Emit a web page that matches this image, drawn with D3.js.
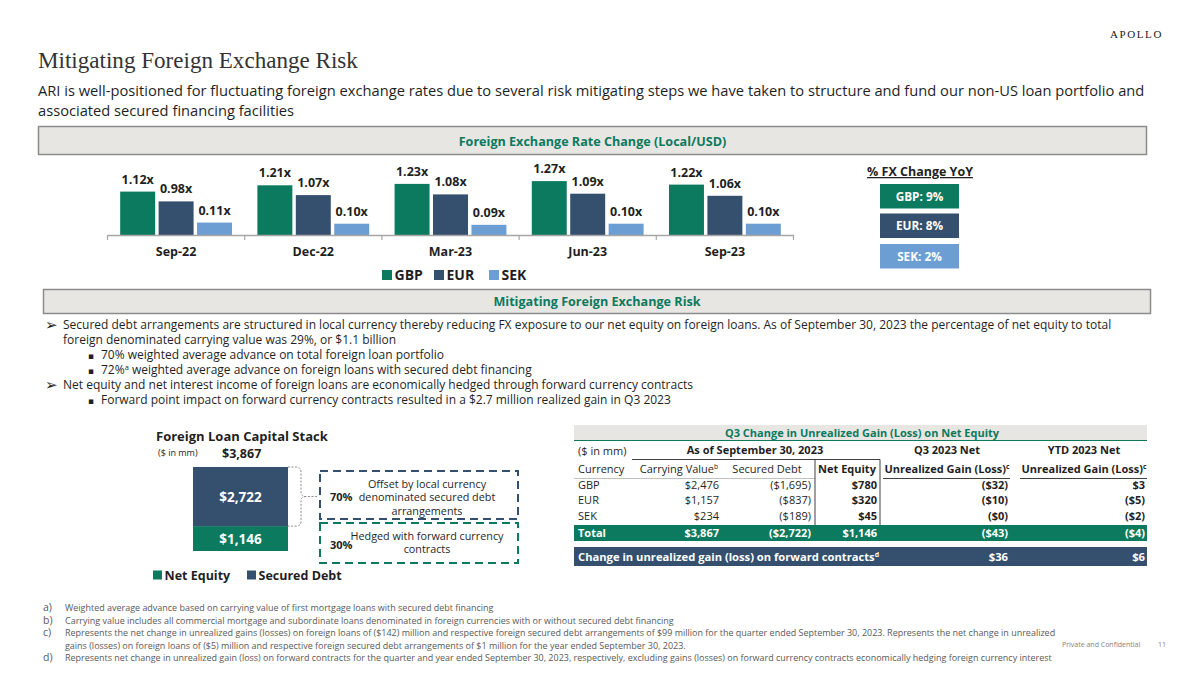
<!DOCTYPE html>
<html>
<head>
<meta charset="utf-8">
<script src="https://cdn.jsdelivr.net/npm/d3@7"></script>
<style>
  body { margin: 0; background: #fff; }
  svg { display: block; font-family: "Open Sans", sans-serif; }
</style>
</head>
<body>
<svg id="slide" width="1200" height="675"></svg>
<script>
// ---- data ----
const periods = ["Sep-22", "Dec-22", "Mar-23", "Jun-23", "Sep-23"];
const currencies = ["GBP", "EUR", "SEK"];
const gbpRate = [1.12, 1.21, 1.23, 1.27, 1.22];
const eurRate = [0.98, 1.07, 1.08, 1.09, 1.06];
const sekRate = [0.11, 0.10, 0.09, 0.10, 0.10];
const fxChangeYoY = [9, 8, 2];

const stackParts = ["Net Equity", "Secured Debt"];
const stackValues = [1146, 2722];
const stackTotal = 3867;
const stackShares = [30, 70];

const tableCurrencies = ["GBP", "EUR", "SEK"];
const carryingValue = [2476, 1157, 234];
const securedDebt = [-1695, -837, -189];
const netEquity = [780, 320, 45];
const q3Gain = [-32, -10, -0];
const ytdGain = [3, -5, -2];
const totals = [3867, -2722, 1146, -43, -4];
const fwdContracts = [36, 6];

// ---- setup ----
const svg = d3.select("#slide");
const GREEN = "#0c7a5e", NAVY = "#34506e", SKY = "#6c9ed3", TXT = "#1f1f1f";
const BOXFILL = "#e8e6e3", BOXLINE = "#8c8c8c";

svg.append("rect").attr("width", 1200).attr("height", 675).attr("fill", "#fff");

// scale a line's font so it fills a width
function fitWidth(sel, w) {
  const node = sel.node();
  const fs = parseFloat(sel.attr("font-size"));
  const size = fs * w / node.getComputedTextLength();
  sel.attr("font-size", size.toFixed(2));
  return size;
}

// write plain strings and {sup} parts into a text element
function richText(t, parts) {
  let raised = false;
  (Array.isArray(parts) ? parts : [parts]).forEach(p => {
    if (typeof p === "string") {
      const s = t.append("tspan").text(p);
      if (raised) { s.attr("dy", 4.5); raised = false; }
    } else {
      t.append("tspan").attr("font-size", "0.62em").attr("dy", -4.5).text(p.sup);
      raised = true;
    }
  });
  return t;
}

const money = v => {
  const s = "$" + d3.format(",")(Math.abs(v));
  return (v < 0 || Object.is(v, -0)) ? "(" + s + ")" : s;
};

// ---- header ----
svg.append("text").attr("x", 1163).attr("y", 38).attr("text-anchor", "end")
  .attr("font-family", "Liberation Serif, serif").attr("font-size", 11)
  .attr("letter-spacing", 1.6).attr("fill", "#222").text("APOLLO");

const title = svg.append("text").attr("x", 38).attr("y", 68)
  .attr("font-family", "Liberation Serif, serif").attr("font-size", 26)
  .attr("fill", "#333").text("Mitigating Foreign Exchange Risk");
fitWidth(title, 320);

const sub1 = svg.append("text").attr("x", 38).attr("y", 96).attr("font-size", 16).attr("fill", TXT)
  .text("ARI is well-positioned for fluctuating foreign exchange rates due to several risk mitigating steps we have taken to structure and fund our non-US loan portfolio and");
const subSize = fitWidth(sub1, 1107);
svg.append("text").attr("x", 38).attr("y", 116).attr("font-size", subSize).attr("fill", TXT)
  .text("associated secured financing facilities");

// section bands
function band(x, y, w, h, label, ty) {
  svg.append("rect").attr("x", x).attr("y", y).attr("width", w).attr("height", h)
    .attr("fill", BOXFILL).attr("stroke", BOXLINE).attr("stroke-width", 1.5);
  svg.append("text").attr("x", x + w / 2).attr("y", ty).attr("text-anchor", "middle")
    .attr("font-size", 12.6).attr("font-weight", 700).attr("fill", GREEN).text(label);
}
band(38.5, 126.5, 1108, 28, "Foreign Exchange Rate Change (Local/USD)", 145.5);
band(43.5, 289.5, 1107, 24, "Mitigating Foreign Exchange Risk", 306);

// ---- FX bar chart ----
const base = 235;
const x0 = d3.scaleBand().domain(periods).range([107.5, 793.5]);
const x1 = d3.scaleBand().domain(currencies).range([0, x0.bandwidth()])
  .paddingInner(0.09).paddingOuter(0.33);
const yMain = d3.scaleLinear().domain([0.5, 1.3]).range([base, base - 56]);
const ySek = d3.scaleLinear().domain([0, 0.2]).range([base, base - 22.6]);
const colors = d3.scaleOrdinal().domain(currencies).range([GREEN, NAVY, SKY]);

const barData = periods.flatMap((p, i) => [
  { p, c: "GBP", v: gbpRate[i], y: yMain },
  { p, c: "EUR", v: eurRate[i], y: yMain },
  { p, c: "SEK", v: sekRate[i], y: ySek }
]);

const chart = svg.append("g");
chart.selectAll("rect.bar").data(barData).join("rect").attr("class", "bar")
  .attr("x", d => x0(d.p) + x1(d.c))
  .attr("y", d => d.y(d.v))
  .attr("width", x1.bandwidth())
  .attr("height", d => base - d.y(d.v))
  .attr("fill", d => colors(d.c));

chart.selectAll("text.val").data(barData).join("text").attr("class", "val")
  .attr("x", d => x0(d.p) + x1(d.c) + x1.bandwidth() / 2)
  .attr("y", d => d.y(d.v) - 8)
  .attr("text-anchor", "middle").attr("font-size", 12.5).attr("font-weight", 700).attr("fill", TXT)
  .text(d => d3.format(".2f")(d.v) + "x");

const xAxis = chart.append("g").attr("transform", `translate(0,${base})`)
  .call(d3.axisBottom(x0).tickSize(0).tickPadding(12));
xAxis.select(".domain").attr("stroke", "#a6a6a6").attr("stroke-width", 1.5);
xAxis.selectAll("text").attr("font-family", "Open Sans, sans-serif").attr("font-size", 12.5)
  .attr("font-weight", 700).attr("fill", TXT);
// category separators like the original
const edges = periods.map(p => x0(p)).concat([x0.range()[1]]);
chart.selectAll("line.sep").data(edges).join("line").attr("class", "sep")
  .attr("x1", d => d).attr("x2", d => d).attr("y1", base).attr("y2", base + 5)
  .attr("stroke", "#a6a6a6").attr("stroke-width", 1.2);

// legend
const leg = chart.append("g").attr("transform", "translate(382,280)");
const legX = [0, 52, 107];
currencies.forEach((c, i) => {
  leg.append("rect").attr("x", legX[i]).attr("y", -10).attr("width", 10).attr("height", 10).attr("fill", colors(c));
  leg.append("text").attr("x", legX[i] + 12.5).attr("y", 0).attr("font-size", 14)
    .attr("font-weight", 700).attr("fill", TXT).text(c);
});

// % FX change YoY
svg.append("text").attr("x", 920).attr("y", 176).attr("text-anchor", "middle")
  .attr("font-size", 12.5).attr("font-weight", 700).attr("fill", TXT)
  .attr("text-decoration", "underline").text("% FX Change YoY");
const boxY = [184, 213.5, 244];
currencies.forEach((c, i) => {
  svg.append("rect").attr("x", 880).attr("y", boxY[i]).attr("width", 79).attr("height", 24.5)
    .attr("fill", colors(c));
  svg.append("text").attr("x", 919.5).attr("y", boxY[i] + 16.5).attr("text-anchor", "middle")
    .attr("font-size", 11.8).attr("font-weight", 700).attr("fill", "#fff")
    .text(`${c}: ${fxChangeYoY[i]}%`);
});

// ---- bullets ----
const bl = svg.append("g").attr("fill", TXT);
function bullet(level, y, parts) {
  const bx = level === 1 ? 45 : 88;
  const tx = level === 1 ? 63 : 101;
  bl.append("text").attr("x", bx).attr("y", y + (level === 1 ? 1 : 0)).attr("font-family", "DejaVu Sans, sans-serif")
    .attr("font-size", level === 1 ? 15 : 9).text(level === 1 ? "\u27A2" : "\u25AA");
  return line(tx, y, parts);
}
function line(x, y, parts) {
  return richText(bl.append("text").attr("x", x).attr("y", y).attr("font-size", 13.5), parts);
}
const b1 = bullet(1, 329, "Secured debt arrangements are structured in local currency thereby reducing FX exposure to our net equity on foreign loans. As of September 30, 2023 the percentage of net equity to total");
const bs = fitWidth(b1, 1049);
const lines = [
  line(63, 344, "foreign denominated carrying value was 29%, or $1.1 billion"),
  bullet(2, 359, "70% weighted average advance on total foreign loan portfolio"),
  bullet(2, 374, ["72%", { sup: "a" }, " weighted average advance on foreign loans with secured debt financing"]),
  bullet(1, 389, "Net equity and net interest income of foreign loans are economically hedged through forward currency contracts"),
  bullet(2, 404, "Forward point impact on forward currency contracts resulted in a $2.7 million realized gain in Q3 2023")
];
lines.forEach(t => t.attr("font-size", bs));

// ---- foreign loan capital stack ----
const st = svg.append("g");
st.append("text").attr("x", 156).attr("y", 441).attr("font-size", 13).attr("font-weight", 700)
  .attr("fill", TXT).text("Foreign Loan Capital Stack");
st.append("text").attr("x", 158).attr("y", 456).attr("font-size", 9).attr("fill", TXT).text("($ in mm)");
st.append("text").attr("x", 222).attr("y", 458).attr("font-size", 12.5).attr("font-weight", 700)
  .attr("fill", TXT).text(money(stackTotal));

const yStack = d3.scaleLinear().domain([0, stackTotal]).range([551, 467]);
const stacked = d3.stack().keys(stackParts)([Object.fromEntries(stackParts.map((k, i) => [k, stackValues[i]]))]);
const stackColor = d3.scaleOrdinal().domain(stackParts).range([GREEN, NAVY]);
const sx = 193, sw = 95;
st.selectAll("rect.seg").data(stacked).join("rect").attr("class", "seg")
  .attr("x", sx).attr("width", sw)
  .attr("y", d => yStack(d[0][1])).attr("height", d => yStack(d[0][0]) - yStack(d[0][1]))
  .attr("fill", d => stackColor(d.key));
st.selectAll("text.seg").data(stacked).join("text").attr("class", "seg")
  .attr("x", sx + sw / 2).attr("y", d => (yStack(d[0][0]) + yStack(d[0][1])) / 2 + 5)
  .attr("text-anchor", "middle").attr("font-size", 13.5).attr("font-weight", 700).attr("fill", "#fff")
  .text(d => money(d[0][1] - d[0][0]));

// bracket on the secured-debt segment
const bt = yStack(stackTotal), bb = yStack(stackValues[0]), bm = (bt + bb) / 2;
const bxr = sx + sw;
st.append("path")
  .attr("d", `M${bxr},${bt} H${bxr + 8} Q${bxr + 13},${bt} ${bxr + 13},${bt + 5} V${bm - 4}
    Q${bxr + 13},${bm} ${bxr + 18},${bm} H${bxr + 30}
    M${bxr + 18},${bm} Q${bxr + 13},${bm} ${bxr + 13},${bm + 4} V${bb - 5}
    Q${bxr + 13},${bb} ${bxr + 8},${bb} H${bxr}`)
  .attr("fill", "none").attr("stroke", "#8c8c8c").attr("stroke-width", 1).attr("stroke-dasharray", "2,1.5");

// dashed call-out boxes
const callouts = [
  { y: 471, h: 48, color: NAVY, share: stackShares[1], text: ["Offset by local currency", "denominated secured debt", "arrangements"], ty: [487.5, 501, 514.5], py: 501 },
  { y: 523, h: 40, color: GREEN, share: stackShares[0], text: ["Hedged with forward currency", "contracts"], ty: [540, 553], py: 549 }
];
callouts.forEach(c => {
  st.append("rect").attr("x", 320).attr("y", c.y).attr("width", 198).attr("height", c.h)
    .attr("fill", "none").attr("stroke", c.color).attr("stroke-width", 2).attr("stroke-dasharray", "8,5");
  st.append("text").attr("x", 330).attr("y", c.py).attr("font-size", 11).attr("font-weight", 700)
    .attr("fill", TXT).text(c.share + "%");
  c.text.forEach((t, i) => st.append("text").attr("x", 427).attr("y", c.ty[i]).attr("text-anchor", "middle")
    .attr("font-size", 10.8).attr("fill", TXT).text(t));
});

// stack legend
const sl = st.append("g").attr("transform", "translate(153,580)");
const slX = [0, 94];
stackParts.forEach((k, i) => {
  sl.append("rect").attr("x", slX[i]).attr("y", -9.5).attr("width", 9).attr("height", 9).attr("fill", stackColor(k));
  sl.append("text").attr("x", slX[i] + 11.5).attr("y", 0).attr("font-size", 12.5).attr("font-weight", 700)
    .attr("fill", TXT).text(k);
});

// ---- table ----
const tb = svg.append("g").attr("font-size", 11).attr("fill", TXT);
const L = 574, R = 1147;
tb.append("rect").attr("x", L).attr("y", 425).attr("width", R - L).attr("height", 15).attr("fill", BOXFILL);
tb.append("line").attr("x1", L).attr("x2", R).attr("y1", 440.5).attr("y2", 440.5).attr("stroke", GREEN).attr("stroke-width", 1.2);
tb.append("text").attr("x", 862).attr("y", 437).attr("text-anchor", "middle").attr("font-weight", 700)
  .attr("fill", GREEN).text("Q3 Change in Unrealized Gain (Loss) on Net Equity");

const colR = [719, 811, 877, 1008, 1145];
const colC = [679, 767, 847, 947, 1084];
const hdr = (x, y, parts, bold, anchor = "middle") =>
  richText(tb.append("text").attr("x", x).attr("y", y).attr("text-anchor", anchor)
    .attr("font-weight", bold ? 700 : 400), parts);
hdr(578, 454.5, ["($ in mm)"], false, "start");
hdr(755, 453.5, ["As of September 30, 2023"], true);
hdr(colC[3], 453.5, ["Q3 2023 Net"], true);
hdr(colC[4], 453.5, ["YTD 2023 Net"], true);
hdr(578, 473, ["Currency"], false, "start");
hdr(colC[0], 473, ["Carrying Value", { sup: "b" }], false);
hdr(colC[1], 473, ["Secured Debt"], false);
hdr(colC[2], 473, ["Net Equity"], true);
hdr(colC[3], 473, ["Unrealized Gain (Loss)", { sup: "c" }], true);
hdr(colC[4], 473, ["Unrealized Gain (Loss)", { sup: "c" }], true);

const rule = (x1, x2, y, c = "#404040", w = 1) => tb.append("line").attr("x1", x1).attr("x2", x2)
  .attr("y1", y).attr("y2", y).attr("stroke", c).attr("stroke-width", w);
rule(632, 880, 459.5);
rule(L, 815, 478.5, "#b0b0b0", 0.8);
rule(883, 1010, 478.5);
rule(1020, R, 478.5);
[815, 880].forEach(x => tb.append("line").attr("x1", x).attr("x2", x).attr("y1", 459.5).attr("y2", 525)
  .attr("stroke", "#404040").attr("stroke-width", 1));

const rowY = [489, 504, 519.5];
tableCurrencies.forEach((c, i) => {
  const vals = [carryingValue[i], securedDebt[i], netEquity[i], q3Gain[i], ytdGain[i]];
  tb.append("text").attr("x", 578).attr("y", rowY[i]).text(c);
  vals.forEach((v, j) => tb.append("text").attr("x", colR[j]).attr("y", rowY[i]).attr("text-anchor", "end")
    .attr("font-weight", j >= 2 ? 700 : 400).text(money(v)));
});

// total row
tb.append("rect").attr("x", L).attr("y", 525).attr("width", R - L).attr("height", 16).attr("fill", GREEN);
tb.append("text").attr("x", 578).attr("y", 537).attr("font-weight", 700).attr("fill", "#fff").text("Total");
totals.forEach((v, j) => tb.append("text").attr("x", colR[j]).attr("y", 537).attr("text-anchor", "end")
  .attr("font-weight", 700).attr("fill", "#fff").text(money(v)));

// forward contracts row
tb.append("rect").attr("x", L).attr("y", 547).attr("width", R - L).attr("height", 19).attr("fill", NAVY);
richText(tb.append("text").attr("x", 578).attr("y", 561).attr("font-weight", 700).attr("fill", "#fff")
  .attr("font-size", 11.2), ["Change in unrealized gain (loss) on forward contracts", { sup: "d" }]);
fwdContracts.forEach((v, j) => tb.append("text").attr("x", colR[j + 3]).attr("y", 561).attr("text-anchor", "end")
  .attr("font-weight", 700).attr("font-size", 11.2).attr("fill", "#fff").text(money(v)));

// ---- footnotes ----
const fn = svg.append("g").attr("fill", "#595959");
const notes = [
  ["a)", "Weighted average advance based on carrying value of first mortgage loans with secured debt financing"],
  ["b)", "Carrying value includes all commercial mortgage and subordinate loans denominated in foreign currencies with or without secured debt financing"],
  ["c)", "Represents the net change in unrealized gains (losses) on foreign loans of ($142) million and respective foreign secured debt arrangements of $99 million for the quarter ended September 30, 2023. Represents the net change in unrealized"],
  ["", "gains (losses) on foreign loans of ($5) million and respective foreign secured debt arrangements of $1 million for the year ended September 30, 2023."],
  ["d)", "Represents net change in unrealized gain (loss) on forward contracts for the quarter and year ended September 30, 2023, respectively, excluding gains (losses) on forward currency contracts economically hedging foreign currency interest"]
];
const fnY = [611, 623.5, 636, 648.5, 661];
const fnTexts = notes.map((n, i) => {
  fn.append("text").attr("x", 43).attr("y", fnY[i]).attr("font-size", 10.5).text(n[0]);
  return fn.append("text").attr("x", 65).attr("y", fnY[i]).attr("font-size", 10.5).text(n[1]);
});
const fs = fitWidth(fnTexts[2], 992);
fnTexts.forEach(t => t.attr("font-size", fs));

svg.append("text").attr("x", 1062).attr("y", 647).attr("font-size", 7).attr("fill", "#7f7f7f").text("Private and Confidential");
svg.append("text").attr("x", 1158).attr("y", 647).attr("font-size", 7).attr("fill", "#7f7f7f").text("11");
</script>
</body>
</html>
